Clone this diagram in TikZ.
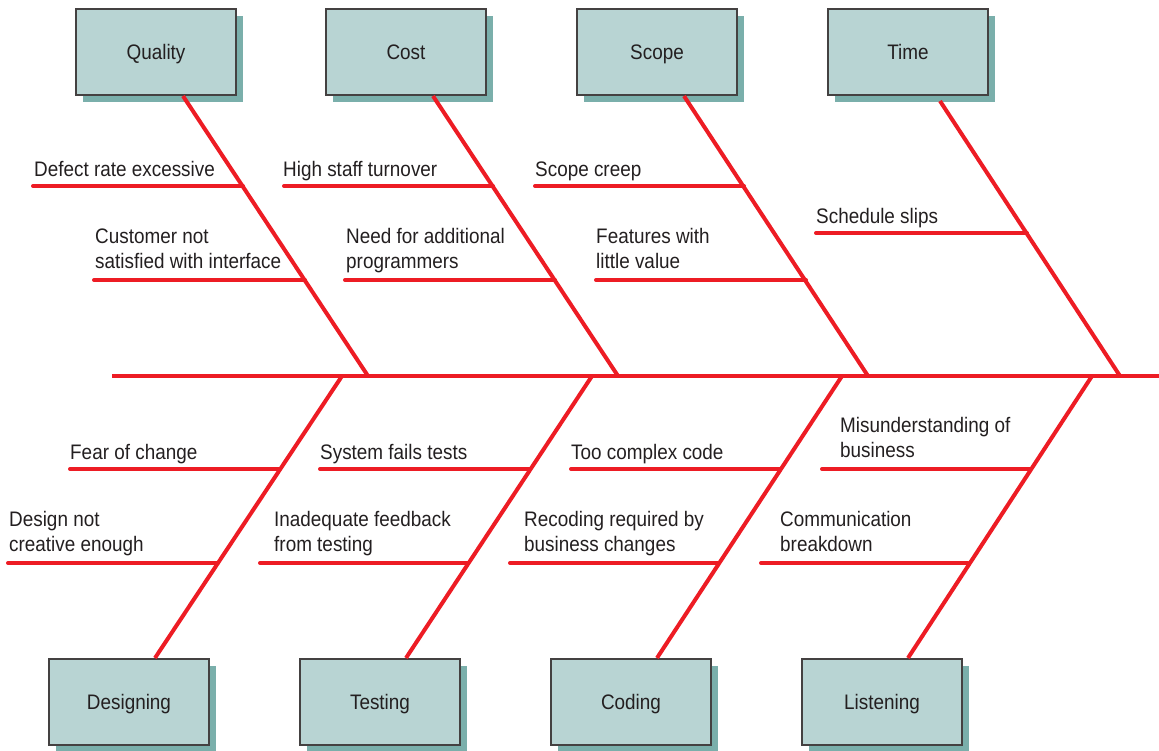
\documentclass[tikz,border=0pt]{standalone}
\usepackage{fontspec}
\setmainfont{Liberation Sans}[FakeStretch=0.9]
\usetikzlibrary{calc}
\definecolor{boxfill}{HTML}{B8D4D3}
\definecolor{boxshadow}{HTML}{7AAFAB}
\definecolor{bone}{HTML}{ED1C24}
\definecolor{txt}{HTML}{231F20}
\tikzset{
  catbox/.style={draw=txt!85, line width=1.4pt, fill=boxfill, minimum width=160pt, minimum height=86pt, inner sep=0pt, text height=17pt, text depth=2pt, font=\fontsize{21}{24}\selectfont, text=txt},
  boneline/.style={draw=bone, line width=4pt, line cap=round},
  spineline/.style={draw=bone, line width=4pt},
  lbl/.style={anchor=south west, inner sep=0pt, align=left, text depth=5pt, font=\fontsize{21}{25}\selectfont, text=txt}
}
\begin{document}
\begin{tikzpicture}[x=1pt,y=-1pt]
\useasboundingbox (0,0) rectangle (1159,751);
% shadows
\foreach \x/\y in {76/9,326/9,577/9,828/9,49/659,300/659,551/659,802/659}{
  \fill[boxshadow] (\x+7,\y+7) rectangle (\x+167,\y+93);
}
% boxes
\node[catbox] (quality) at (156,52) {Quality};
\node[catbox] (cost) at (406,52) {Cost};
\node[catbox] (scope) at (657,52) {Scope};
\node[catbox] (time) at (908,52) {Time};
\node[catbox] (designing) at (129,702) {Designing};
\node[catbox] (testing) at (380,702) {Testing};
\node[catbox] (coding) at (631,702) {Coding};
\node[catbox] (listening) at (882,702) {Listening};
% spine
\coordinate (spineL) at (112,376);
\coordinate (spineR) at (1159,376);
\draw[spineline] (spineL) -- (spineR);
% top bones
\coordinate (q0) at (183,96); \coordinate (q1) at (368,376);
\coordinate (c0) at (433,96); \coordinate (c1) at (618,376);
\coordinate (s0) at (684,96); \coordinate (s1) at (868,376);
\coordinate (t0) at (940,101); \coordinate (t1) at (1120,376);
% bottom bones
\coordinate (d0) at (155,658); \coordinate (d1) at (342,376);
\coordinate (e0) at (406,658); \coordinate (e1) at (592,376);
\coordinate (g0) at (657,658); \coordinate (g1) at (842,376);
\coordinate (l0) at (908,658); \coordinate (l1) at (1092,376);
\foreach \b in {q,c,s,t,d,e,g,l}{
  \draw[bone, line width=4pt] (\b0) -- (\b1);
}
% branch end points on bones
\coordinate (qa) at (243,186); \coordinate (qb) at (305,280);
\coordinate (ca) at (493,186); \coordinate (cb) at (555,280);
\coordinate (sa) at (744,186); \coordinate (sb) at (806,280);
\coordinate (ta) at (1027,233);
\coordinate (da) at (280,469); \coordinate (db) at (218,563);
\coordinate (ea) at (530,469); \coordinate (eb) at (468,563);
\coordinate (ga) at (780,469); \coordinate (gb) at (718,563);
\coordinate (la) at (1030,469); \coordinate (lb) at (968,563);
% branch start points
\coordinate (qa0) at (33,186); \coordinate (qb0) at (94,280);
\coordinate (ca0) at (284,186); \coordinate (cb0) at (345,280);
\coordinate (sa0) at (535,186); \coordinate (sb0) at (596,280);
\coordinate (ta0) at (816,233);
\coordinate (da0) at (70,469); \coordinate (db0) at (8,563);
\coordinate (ea0) at (320,469); \coordinate (eb0) at (260,563);
\coordinate (ga0) at (571,469); \coordinate (gb0) at (510,563);
\coordinate (la0) at (822,469); \coordinate (lb0) at (761,563);
\foreach \a in {qa,qb,ca,cb,sa,sb,ta,da,db,ea,eb,ga,gb,la,lb}{
  \draw[boneline] (\a0) -- (\a);
}
% labels
\node[lbl] (lqa) at ($(qa0)+(1,-4)$) {Defect rate excessive};
\node[lbl] (lqb) at ($(qb0)+(1,-6)$) {Customer not\\satisfied with interface};
\node[lbl] (lca) at ($(ca0)+(-1,-4)$) {High staff turnover};
\node[lbl] (lcb) at ($(cb0)+(1,-6)$) {Need for additional\\programmers};
\node[lbl] (lsa) at ($(sa0)+(0,-4)$) {Scope creep};
\node[lbl] (lsb) at ($(sb0)+(0,-6)$) {Features with\\little value};
\node[lbl] (lta) at ($(ta0)+(0,-4)$) {Schedule slips};
\node[lbl] (lda) at ($(da0)+(0,-4)$) {Fear of change};
\node[lbl] (ldb) at ($(db0)+(1,-6)$) {Design not\\creative enough};
\node[lbl] (lea) at ($(ea0)+(0,-4)$) {System fails tests};
\node[lbl] (leb) at ($(eb0)+(14,-6)$) {Inadequate feedback\\from testing};
\node[lbl] (lga) at ($(ga0)+(0,-4)$) {Too complex code};
\node[lbl] (lgb) at ($(gb0)+(14,-6)$) {Recoding required by\\business changes};
\node[lbl] (lla) at ($(la0)+(18,-6)$) {Misunderstanding of\\business};
\node[lbl] (llb) at ($(lb0)+(19,-6)$) {Communication\\breakdown};
\end{tikzpicture}
\end{document}
